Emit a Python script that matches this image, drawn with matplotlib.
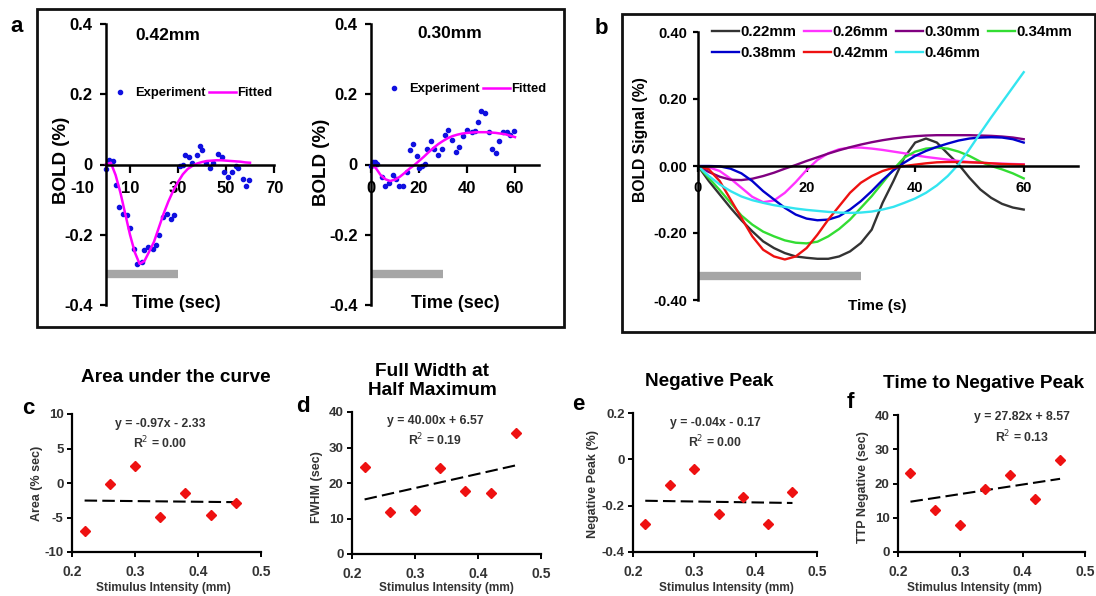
import numpy as np
import matplotlib
matplotlib.use('Agg')
import matplotlib.pyplot as plt
from matplotlib.patches import Rectangle

plt.rcParams['font.family'] = ['Liberation Sans', 'DejaVu Sans']
plt.rcParams['axes.unicode_minus'] = False

# ---- data ----
stim_window = [0, 30]

# panel a, 0.42mm
exp42_t = [0, 1.4, 3.0, 4.2, 5.6, 7.2, 8.6, 10.0, 11.8, 12.8, 14.9, 15.8, 17.6, 19.4, 20.8,
           22.2, 23.9, 25.3, 27.1, 28.3, 30.8, 32.0, 33.1, 34.6, 36.0, 37.8, 39.2, 40.2, 41.7,
           43.3, 44.7, 46.8, 48.2, 49.2, 50.8, 52.4, 54.0, 55.1, 56.9, 58.3, 59.7]
exp42_v = [-0.014, 0.014, 0.01, -0.057, -0.12, -0.14, -0.145, -0.18, -0.24, -0.283, -0.279,
           -0.244, -0.235, -0.24, -0.23, -0.2, -0.15, -0.14, -0.155, -0.145, -0.005, 0.0, 0.028,
           0.02, 0.005, 0.027, 0.052, 0.04, 0.005, -0.01, 0.005, 0.03, 0.02, -0.02, -0.035,
           -0.02, -0.005, -0.01, -0.04, -0.06, -0.043]
# panel a, 0.30mm
exp30_t = [0, 0.7, 1.7, 2.6, 4.4, 5.8, 7.6, 9.0, 10.4, 11.8, 13.5, 14.9, 16.3, 17.6, 19.0,
           20.1, 21.1, 22.5, 23.2, 24.9, 26.4, 28.1, 29.4, 30.8, 32.2, 33.6, 35.4, 36.8, 38.5,
           39.9, 41.9, 43.3, 44.7, 45.8, 47.5, 49.2, 50.5, 51.9, 53.5, 55.1, 56.5, 57.9, 59.6]
exp30_v = [-0.003, 0.006, 0.008, 0.002, -0.036, -0.06, -0.052, -0.03, -0.04, -0.062, -0.062,
           -0.022, 0.04, 0.058, 0.025, -0.01, -0.003, 0.002, 0.044, 0.066, 0.044, 0.027, 0.044,
           0.084, 0.099, 0.071, 0.037, 0.049, 0.08, 0.097, 0.092, 0.094, 0.12, 0.153, 0.146,
           0.092, 0.043, 0.033, 0.068, 0.093, 0.092, 0.084, 0.096]

t_fit = list(range(0, 61, 2))
fit42 = [0, 0.005, -0.03, -0.08, -0.14, -0.2, -0.25, -0.283, -0.275, -0.248, -0.22, -0.18,
         -0.14, -0.105, -0.075, -0.05, -0.028, -0.013, -0.004, 0.003, 0.007, 0.01, 0.011,
         0.012, 0.012, 0.011, 0.01, 0.009, 0.008, 0.006, 0.005]
fit30 = [0, -0.01, -0.03, -0.042, -0.047, -0.043, -0.035, -0.024, -0.012, -0.002, 0.01,
         0.022, 0.035, 0.047, 0.058, 0.067, 0.075, 0.081, 0.085, 0.088, 0.09, 0.091, 0.092,
         0.092, 0.092, 0.091, 0.09, 0.088, 0.086, 0.082, 0.078]

# panel b, fitted responses per stimulus intensity
b_labels = ['0.22mm', '0.26mm', '0.30mm', '0.34mm', '0.38mm', '0.42mm', '0.46mm']
b_colors = ['#333333', '#ff33ff', '#800080', '#33dd33', '#0000cc', '#ee1111', '#33e5f0']
b_022 = [0, -0.045, -0.085, -0.125, -0.162, -0.195, -0.225, -0.245, -0.26, -0.27, -0.274,
         -0.277, -0.277, -0.27, -0.255, -0.23, -0.19, -0.11, -0.045, 0.025, 0.07, 0.082, 0.07,
         0.037, 0.005, -0.035, -0.07, -0.095, -0.113, -0.124, -0.13]
b_026 = [0, -0.004, -0.015, -0.038, -0.065, -0.092, -0.108, -0.103, -0.08, -0.048, -0.012,
         0.018, 0.038, 0.05, 0.055, 0.055, 0.052, 0.048, 0.043, 0.038, 0.032, 0.027, 0.023,
         0.019, 0.015, 0.012, 0.01, 0.008, 0.007, 0.006, 0.005]
b_030 = [0, -0.018, -0.032, -0.041, -0.042, -0.038, -0.03, -0.02, -0.008, 0.003, 0.015,
         0.026, 0.037, 0.047, 0.056, 0.064, 0.071, 0.077, 0.082, 0.086, 0.089, 0.091, 0.092,
         0.092, 0.092, 0.092, 0.091, 0.09, 0.088, 0.085, 0.08]
b_034 = [0, -0.036, -0.072, -0.11, -0.148, -0.175, -0.196, -0.21, -0.222, -0.229, -0.231,
         -0.226, -0.21, -0.188, -0.16, -0.125, -0.09, -0.05, -0.01, 0.025, 0.043, 0.052,
         0.055, 0.052, 0.043, 0.03, 0.013, 0.0, -0.01, -0.022, -0.037]
b_038 = [0, 0, -0.001, -0.008, -0.022, -0.045, -0.075, -0.1, -0.125, -0.145, -0.157, -0.162,
         -0.16, -0.15, -0.13, -0.105, -0.075, -0.042, -0.013, 0.01, 0.03, 0.045, 0.057, 0.067,
         0.076, 0.082, 0.085, 0.086, 0.085, 0.08, 0.07]
b_042 = [0, -0.01, -0.045, -0.1, -0.155, -0.21, -0.25, -0.27, -0.279, -0.27, -0.245, -0.205,
         -0.16, -0.12, -0.08, -0.05, -0.03, -0.015, -0.005, 0.0, 0.004, 0.008, 0.011, 0.012,
         0.012, 0.011, 0.01, 0.008, 0.006, 0.005, 0.004]
b_046 = [0, -0.03, -0.055, -0.075, -0.091, -0.102, -0.11, -0.117, -0.122, -0.127, -0.131,
         -0.134, -0.137, -0.139, -0.14, -0.139, -0.136, -0.13, -0.122, -0.11, -0.097, -0.08,
         -0.058, -0.03, 0.005, 0.05, 0.098, 0.145, 0.19, 0.235, 0.28]
b_series = [b_022, b_026, b_030, b_034, b_038, b_042, b_046]

# panels c-f
intensity = [0.22, 0.26, 0.30, 0.34, 0.38, 0.42, 0.46]
area = [-7.0, -0.12, 2.4, -4.94, -1.47, -4.7, -2.92]
fwhm = [24.5, 11.9, 12.4, 24.1, 17.8, 17.2, 34.1]
neg_peak = [-0.28, -0.111, -0.043, -0.237, -0.164, -0.28, -0.143]
ttp = [23.2, 12.2, 8.0, 18.5, 22.4, 15.4, 26.8]
fits = {'c': (-0.97, -2.33), 'd': (40.00, 6.57), 'e': (-0.04, -0.17), 'f': (27.82, 8.57)}
eq_text = {'c': ('y = -0.97x - 2.33', 'R$^2$ = 0.00'),
           'd': ('y = 40.00x + 6.57', 'R$^2$ = 0.19'),
           'e': ('y = -0.04x - 0.17', 'R$^2$ = 0.00'),
           'f': ('y = 27.82x + 8.57', 'R$^2$ = 0.13')}

# ---- layout helpers (pixel coordinates) ----
W, H = 1096, 596
fig = plt.figure(figsize=(W / 100, H / 100), dpi=100)


def fx(px):
    return px / W


def fy(py):
    return 1 - py / H


def add_ax(x0, y0, x1, y1):
    return fig.add_axes([fx(x0), fy(y1), (x1 - x0) / W, (y1 - y0) / H])


def txt(px, py, s, **kw):
    kw.setdefault('ha', 'center')
    kw.setdefault('va', 'center')
    fig.text(fx(px), fy(py), s, **kw)


def style(ax, lw=1.6):
    for s in ['top', 'right']:
        ax.spines[s].set_visible(False)
    for s in ['left', 'bottom']:
        ax.spines[s].set_linewidth(lw)
    ax.patch.set_alpha(0)


# frames around a and b
fig.add_artist(Rectangle((fx(37), fy(327)), (564 - 37) / W, (327 - 9) / H, transform=fig.transFigure,
                         fill=False, lw=2, ec='#111111'))
fig.add_artist(Rectangle((fx(622), fy(332)), (1095 - 622) / W, (332 - 14) / H, transform=fig.transFigure,
                         fill=False, lw=2, ec='#111111'))
txt(17, 26, 'a', fontsize=16, fontweight='bold')
txt(601, 28, 'b', fontsize=16, fontweight='bold')

# ---- panel a ----
a_yt = [-0.4, -0.2, 0, 0.2, 0.4]
a_yl = ['-0.4', '-0.2', '0', '0.2', '0.4']

ax1 = add_ax(82, 24, 274, 305)
style(ax1, 1.8)
ax1.set_xlim(-10, 70)
ax1.set_ylim(-0.4, 0.4)
ax1.spines['left'].set_position(('data', 0))
ax1.spines['bottom'].set_position(('data', 0))
ax1.spines['bottom'].set_bounds(0, 70)
ax1.set_xticks([-10, 10, 30, 50, 70])
ax1.set_xticklabels(['-10', '10', '30', '50', '70'])
ax1.xaxis.get_major_ticks()[0].tick1line.set_visible(False)
ax1.plot(stim_window, [-0.313, -0.313], color='#a6a6a6', lw=6, solid_capstyle='butt')
ax1.plot(exp42_t, exp42_v, 'o', color='#1010e0', ms=3, label='Experiment', clip_on=False)
ax1.plot(t_fit, fit42, color='#ff00ff', lw=1.8, label='Fitted')

ax2 = add_ax(371, 24, 539, 305)
style(ax2, 1.8)
ax2.set_xlim(0, 70)
ax2.set_ylim(-0.4, 0.4)
ax2.spines['bottom'].set_position(('data', 0))
ax2.set_xticks([0, 20, 40, 60])
ax2.set_xticklabels(['0', '20', '40', '60'])
ax2.plot(stim_window, [-0.313, -0.313], color='#a6a6a6', lw=6, solid_capstyle='butt')
ax2.plot(exp30_t, exp30_v, 'o', color='#1010e0', ms=3, label='Experiment', clip_on=False)
ax2.plot(t_fit, fit30, color='#ff00ff', lw=1.8, label='Fitted')

for ax, lx, ly in [(ax1, 107, 93), (ax2, 381, 89)]:
    ax.set_yticks(a_yt)
    ax.set_yticklabels(a_yl)
    ax.tick_params(direction='out', length=6, width=1.6, labelsize=12, pad=6, axis='x')
    ax.tick_params(direction='out', length=4.5, width=1.6, labelsize=12, pad=5, axis='y')
    for lab in ax.get_xticklabels() + ax.get_yticklabels():
        lab.set_fontweight('bold')
    ax.legend(loc='center left', bbox_to_anchor=(fx(lx), fy(ly)), bbox_transform=fig.transFigure,
              ncol=2, frameon=False, borderpad=0, borderaxespad=0, handlelength=2.0,
              handletextpad=0.15, columnspacing=0.3, prop={'size': 9.4, 'weight': 'bold'})

txt(168, 35, '0.42mm', fontsize=12.5, fontweight='bold')
txt(450, 33, '0.30mm', fontsize=12.5, fontweight='bold')
txt(176, 304, 'Time (sec)', fontsize=13, fontweight='bold')
txt(455, 304, 'Time (sec)', fontsize=13, fontweight='bold')
txt(62, 160, 'BOLD (%)', fontsize=13.5, fontweight='bold', rotation=90)
txt(322, 162, 'BOLD (%)', fontsize=13.5, fontweight='bold', rotation=90)

# ---- panel b ----
axb = add_ax(698, 32, 1078, 300)
style(axb, 1.8)
axb.set_xlim(0, 70)
axb.set_ylim(-0.4, 0.4)
axb.spines['bottom'].set_position(('data', 0))
axb.set_xticks([0, 20, 40, 60])
axb.set_xticklabels(['0', '20', '40', '60'])
axb.set_yticks([-0.4, -0.2, 0, 0.2, 0.4])
axb.set_yticklabels(['-0.40', '-0.20', '0.00', '0.20', '0.40'])
axb.tick_params(axis='x', direction='out', length=4, width=1.6, labelsize=10.5, pad=7)
axb.tick_params(axis='y', direction='out', length=3.5, width=1.6, labelsize=10.5, pad=4)
for lab in axb.get_xticklabels() + axb.get_yticklabels():
    lab.set_fontweight('bold')
axb.plot(stim_window, [-0.328, -0.328], color='#a6a6a6', lw=6, solid_capstyle='butt')
lines = []
for vals, c, lab in zip(b_series, b_colors, b_labels):
    ln, = axb.plot(t_fit, vals, color=c, lw=1.7, label=lab)
    lines.append(ln)
order = [0, 4, 1, 5, 2, 6, 3]
axb.legend([lines[i] for i in order], [b_labels[i] for i in order], loc='upper left',
           bbox_to_anchor=(fx(712), fy(25)), bbox_transform=fig.transFigure, ncol=4,
           frameon=False, borderpad=0, borderaxespad=0, handlelength=1.8, handletextpad=0.1,
           columnspacing=0.5, labelspacing=0.45, prop={'size': 10.8, 'weight': 'bold'})
txt(877, 306, 'Time (s)', fontsize=11, fontweight='bold')
txt(640, 140, 'BOLD Signal (%)', fontsize=11.3, fontweight='bold', rotation=90)

# ---- panels c-f ----
panels = [
    ('c', area, (72, 414, 261, 552), (-10, 10), [-10, -5, 0, 5, 10], None,
     'Area under the curve', (176, 378), (28, 408), 'Area (% sec)', (37, 483), (160, 424, 443), 163),
    ('d', fwhm, (352, 412, 541, 554), (0, 40), [0, 10, 20, 30, 40], None,
     'Full Width at\nHalf Maximum', (432, 381), (303, 407), 'FWHM (sec)', (317, 487), (435, 421, 440), 446),
    ('e', neg_peak, (633, 413, 817, 552), (-0.4, 0.2), [-0.4, -0.2, 0, 0.2], ['-0.4', '-0.2', '0', '0.2'],
     'Negative Peak', (709, 382), (578, 405), 'Negative Peak (%)', (593, 484), (715, 423, 442), 726),
    ('f', ttp, (898, 415, 1085, 552), (0, 40), [0, 10, 20, 30, 40], None,
     'Time to Negative Peak', (984, 383), (850, 403), 'TTP Negative (sec)', (863, 487), (1022, 417, 437), 974),
]

for key, yvals, rect, ylim, yt, yl, title, tpos, lpos, ylab, ylpos, eqpos, xlx in panels:
    ax = add_ax(*rect)
    style(ax, 1.6)
    ax.set_xlim(0.2, 0.5)
    ax.set_ylim(*ylim)
    ax.set_xticks([0.2, 0.3, 0.4, 0.5])
    ax.set_xticklabels(['0.2', '0.3', '0.4', '0.5'])
    ax.set_yticks(yt)
    if yl:
        ax.set_yticklabels(yl)
    ax.tick_params(axis='x', direction='out', length=3.5, width=1.4, labelsize=10, pad=6,
                   labelcolor='#333333')
    ax.tick_params(axis='y', direction='out', length=3.5, width=1.4, labelsize=9.5, pad=2.5,
                   labelcolor='#333333')
    for lab in ax.get_xticklabels() + ax.get_yticklabels():
        lab.set_fontweight('bold')
    m, b0 = fits[key]
    xs = np.array([intensity[0], intensity[-1]])
    ax.plot(xs, m * xs + b0, color='black', lw=1.5, dashes=(6, 2.5))
    ax.plot(intensity, yvals, 'D', color='#ee1111', ms=5.5, mec='#ee1111')
    txt(*tpos, title, fontsize=13.7, fontweight='bold', linespacing=1.2)
    txt(*lpos, key, fontsize=16, fontweight='bold')
    txt(*ylpos, ylab, fontsize=9, fontweight='bold', rotation=90, color='#333333')
    txt(eqpos[0], eqpos[1], eq_text[key][0], fontsize=8.8, fontweight='bold', color='#333333')
    txt(eqpos[0], eqpos[2], eq_text[key][1], fontsize=8.8, fontweight='bold', color='#333333')
    txt(xlx, 588, 'Stimulus Intensity (mm)', fontsize=8.6, fontweight='bold', color='#333333')

fig.savefig('out.png', dpi=100)
